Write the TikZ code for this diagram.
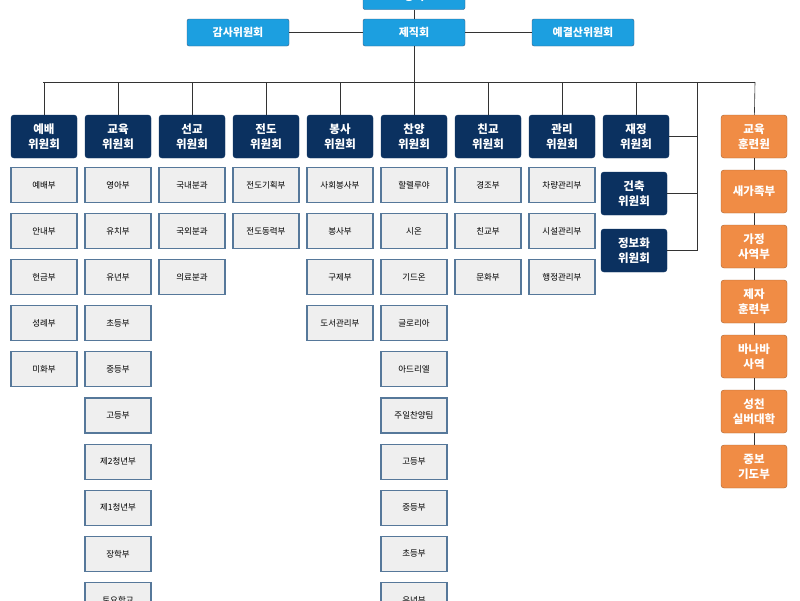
\documentclass[tikz,border=0pt]{standalone}
\usepackage{fontspec}
\setmainfont{Noto Sans CJK KR}
\definecolor{navy}{HTML}{0B3160}
\definecolor{sky}{HTML}{1C9FE0}
\definecolor{org}{HTML}{F08C45}
\definecolor{subbd}{HTML}{56789A}
\definecolor{subfill}{HTML}{EFEFEF}
\tikzset{
 top/.style={draw=navy!80,fill=sky,text=white,rounded corners=2pt,minimum width=102pt,minimum height=27pt,font=\bfseries\fontsize{11}{12}\selectfont},
 com/.style={draw=navy,fill=navy,text=white,rounded corners=3pt,minimum width=66pt,minimum height=43pt,align=center,font=\bfseries\fontsize{11.5}{15}\selectfont},
 orn/.style={draw=org!70!black,fill=org,text=white,rounded corners=3pt,minimum width=66pt,minimum height=43pt,align=center,font=\bfseries\fontsize{11.5}{15}\selectfont},
 sub/.style={draw=subbd,line width=1.1pt,fill=subfill,minimum width=66pt,minimum height=35pt,font=\fontsize{8.5}{10}\selectfont},
 ln/.style={draw=black!80,line width=0.6pt}
}
\begin{document}
\begin{tikzpicture}[x=1pt,y=-1pt]
\useasboundingbox (0,0) rectangle (800,600);
\clip (0,0) rectangle (800,600);
\node[top] (dang) at (414,-4) {당회};
\node[top] (jejik) at (414,32.5) {제직회};
\node[top] (gamsa) at (238,32.5) {감사위원회};
\node[top] (yegyeol) at (583,32.5) {예결산위원회};
\draw[ln] (dang) -- (jejik);
\draw[ln] (gamsa) -- (jejik);
\draw[ln] (jejik) -- (yegyeol);
\coordinate (busL) at (43,82);
\coordinate (busR) at (755,82);
\coordinate (busM) at (414,82);
\draw[ln] (jejik) -- (busM);
\draw[ln] (busL) -- (busR);
\foreach \n/\t [count=\i from 0] in {c0/예배,c1/교육,c2/선교,c3/전도,c4/봉사,c5/찬양,c6/친교,c7/관리,c8/재정}{
  \node[com] (\n) at (44+\i*74,136.5) {\t\\위원회};
  \coordinate (\n t) at (44+\i*74,82);
  \draw[ln] (\n t) -- (\n);
}
\node[com] (c9) at (634,193.5) {건축\\위원회};
\node[com] (c10) at (634,250.5) {정보화\\위원회};
\coordinate (vt) at (697,82);
\coordinate (vb) at (697,250.5);
\draw[ln] (vt) -- (vb);
\draw[ln] (c8.east) -- (c8.east -| vt);
\draw[ln] (c9.east) -- (c9.east -| vt);
\draw[ln] (c10) -- (vb);
% orange column
\foreach \t [count=\i from 0] in {교육\\훈련원,새가족부,가정\\사역부,제자\\훈련부,바나바\\사역,성천\\실버대학,중보\\기도부}{
  \node[orn] (o\i) at (754,136.5+\i*55) {\t};
}
\draw[ln] (busR) -- (o0);
\foreach \a/\b in {0/1,1/2,2/3,3/4,4/5,5/6}{\draw[ln] (o\a) -- (o\b);}
% sub boxes
\def\subcol#1#2#3{\foreach \t [count=\k from 0] in {#3}{\node[sub] (s#1\k) at (#2,185+\k*46.1) {\t};}}
\subcol{a}{44}{예배부,안내부,헌금부,성례부,미화부}
\subcol{b}{118}{영아부,유치부,유년부,초등부,중등부,고등부,제2청년부,제1청년부,장학부,토요학교}
\subcol{c}{192}{국내분과,국외분과,의료분과}
\subcol{d}{266}{전도기획부,전도동력부}
\subcol{e}{340}{사회봉사부,봉사부,구제부,도서관리부}
\subcol{f}{414}{할렐루야,시온,기드온,글로리아,아드리엘,주일찬양팀,고등부,중등부,초등부,유년부}
\subcol{g}{488}{경조부,친교부,문화부}
\subcol{h}{562}{차량관리부,시설관리부,행정관리부}
\end{tikzpicture}
\end{document}
